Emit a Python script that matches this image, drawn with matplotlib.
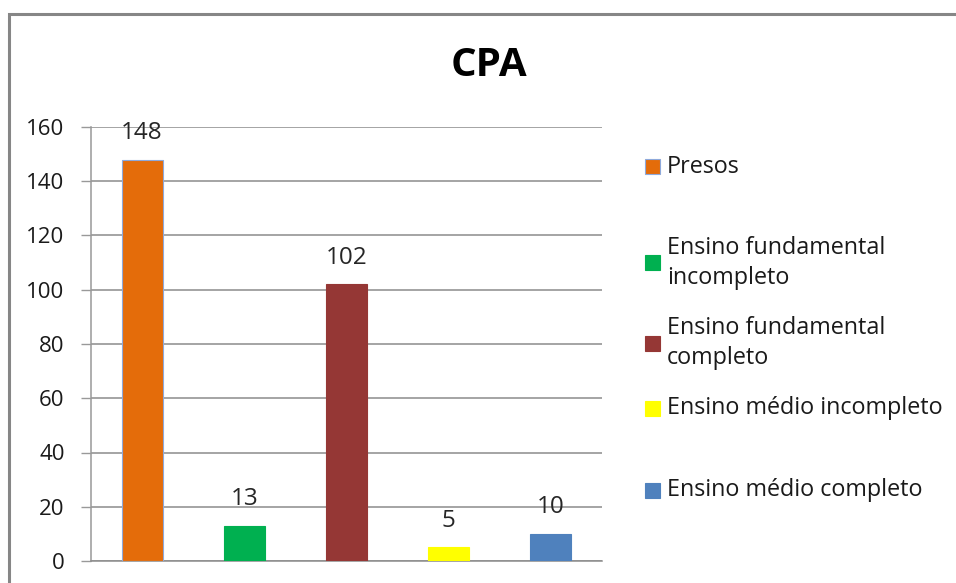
import matplotlib
matplotlib.use("Agg")
import matplotlib.pyplot as plt
from matplotlib.patches import Rectangle

categories = ["Presos", "Ensino fundamental\nincompleto", "Ensino fundamental\ncompleto",
              "Ensino médio incompleto", "Ensino médio completo"]
values = [148, 13, 102, 5, 10]
colors = ["#E46C0A", "#00B050", "#953735", "#FFFF00", "#4F81BD"]
yticks = [0, 20, 40, 60, 80, 100, 120, 140, 160]
title = "CPA"

plt.rcParams['font.family'] = ['Open Sans', 'DejaVu Sans']

W, H = 956, 583
fig = plt.figure(figsize=(W / 100, H / 100), dpi=100)

# outer chart border (cropped on right/bottom)
fig.patches.append(Rectangle((8.5 / W, -0.1), 1.2, (H - 14.5) / H + 0.1,
                             transform=fig.transFigure, fill=False,
                             edgecolor="#868686", linewidth=2.2))

ax = fig.add_axes([91 / W, 22 / H, (602 - 91) / W, (561 - 127) / H])
x = list(range(len(values)))
edges = ["#8EA9DB"] + colors[1:]
bars = ax.bar(x, values, width=0.4, color=colors, edgecolor=edges, linewidth=0.8, zorder=3)
ax.set_xlim(-0.5, len(values) - 0.5)
ax.set_ylim(0, 160)
ax.set_yticks(yticks)
ax.set_yticklabels([str(t) for t in yticks], fontsize=16, color="#1a1a1a")
ax.tick_params(axis="y", length=7, width=1, color="#999999", pad=12)
ax.set_xticks([])
ax.grid(axis="y", color="#8c8c8c", linewidth=1.1, zorder=0)
for s in ["top", "right"]:
    ax.spines[s].set_visible(False)
ax.spines["left"].set_color("#999999")
ax.spines["bottom"].set_color("#8c8c8c")
ax.spines["left"].set_linewidth(1.1)
ax.spines["bottom"].set_linewidth(1.1)

for xi, v in zip(x, values):
    ax.annotate(str(v), (xi, v), xytext=(0, 19), textcoords="offset points",
                ha="center", va="center", fontsize=17.5, color="#262626")

fig.text(489 / W, 1 - 66 / H, title, ha="center", va="center",
         fontsize=29, fontweight="bold", color="black")

# legend
leg_y = [167, 263, 343, 408, 490]
for cat, col, ec, yy in zip(categories, colors, edges, leg_y):
    fig.patches.append(Rectangle((645 / W, 1 - (yy + 7.5) / H), 15 / W, 15 / H,
                                 transform=fig.transFigure, facecolor=col,
                                 edgecolor=ec, linewidth=0.8))
    fig.text(667 / W, 1 - yy / H, cat, ha="left", va="center", fontsize=16.8,
             color="#1a1a1a", linespacing=1.3)

fig.savefig("out.png", dpi=100)
